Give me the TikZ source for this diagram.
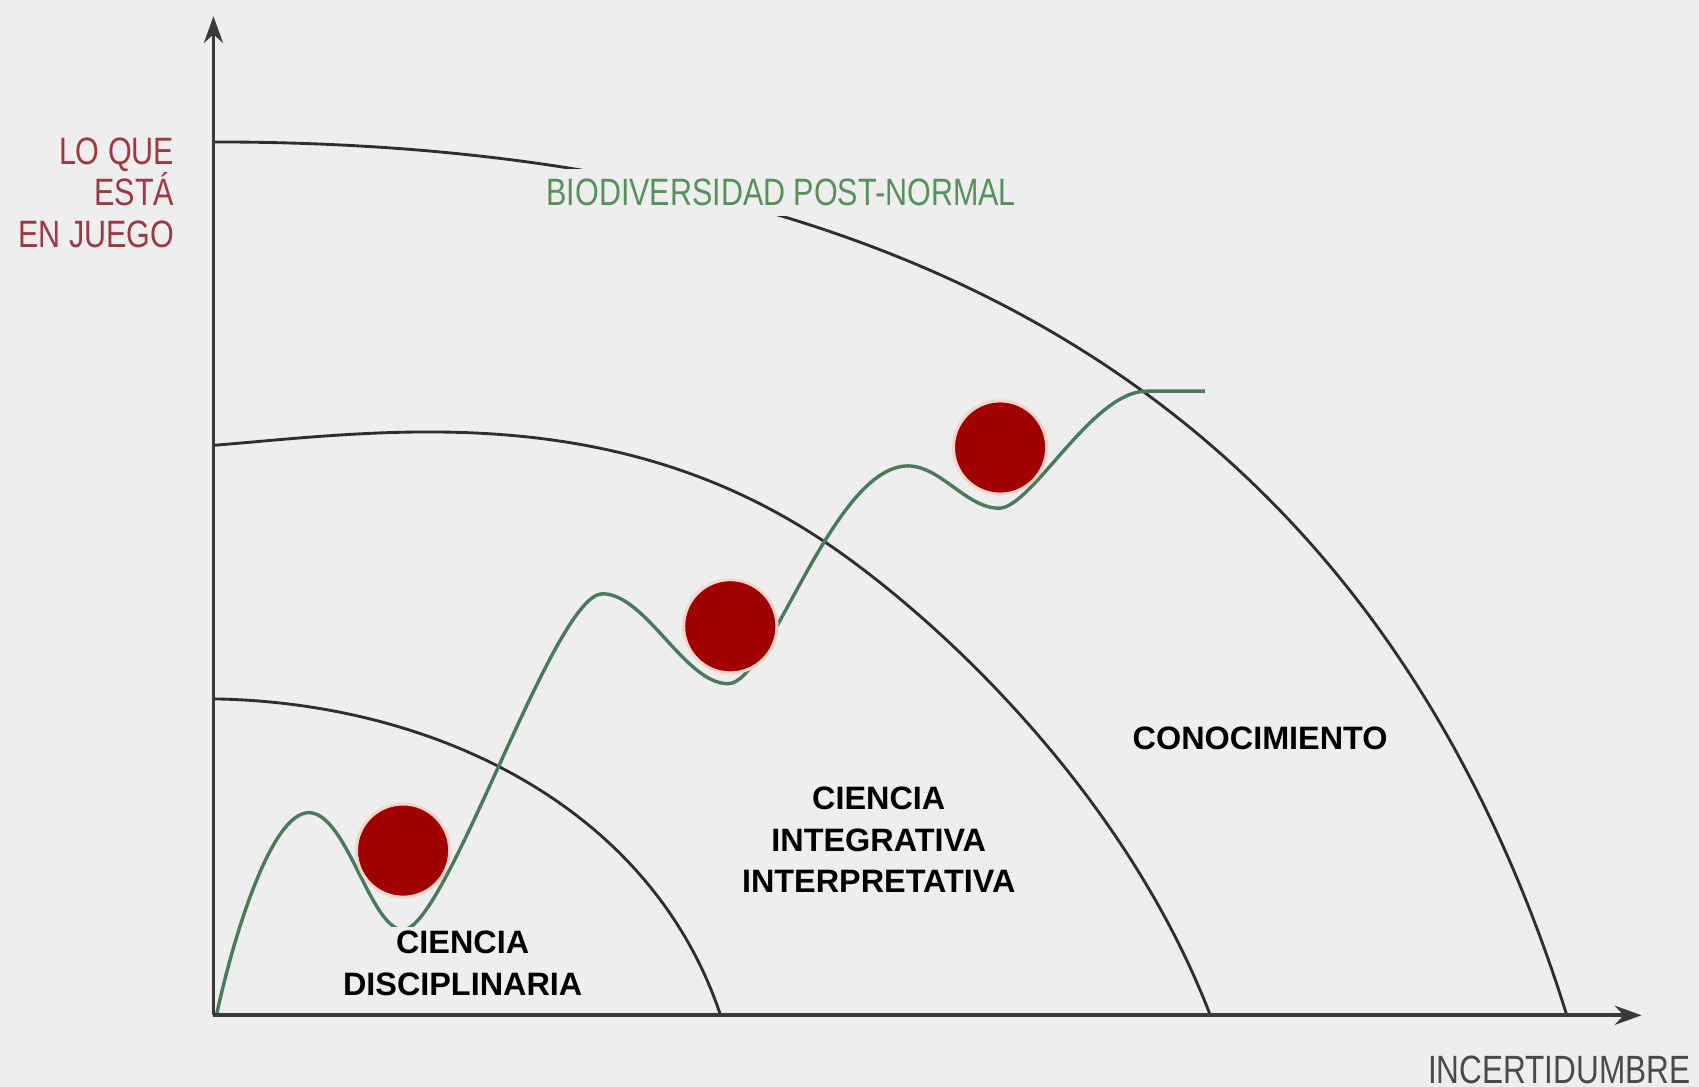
\documentclass[tikz,border=0pt]{standalone}
\usepackage{fontspec}
\setmainfont{Liberation Sans}
\newfontfamily\narrowfont[FakeStretch=0.8]{Liberation Sans}
\usetikzlibrary{arrows.meta}
\definecolor{bg}{HTML}{EEEEEE}
\definecolor{stakered}{HTML}{9E3843}
\definecolor{labgreen}{HTML}{56905C}
\definecolor{curvegreen}{HTML}{4A7A5A}
\definecolor{ball}{HTML}{A00000}
\definecolor{ballrim}{HTML}{F6D6CC}
\definecolor{arcgray}{HTML}{2E2E2E}
\definecolor{axisgray}{HTML}{3A3A3A}
\definecolor{uncgray}{HTML}{4A4A4A}
\begin{document}
\begin{tikzpicture}[x=0.01cm,y=-0.01cm,
  axisline/.style={draw=axisgray,line width=1pt,-{Stealth[length=7pt,width=5pt]}},
  arcline/.style={draw=arcgray,line width=0.75pt},
  greencurve/.style={draw=curvegreen,line width=0.9pt},
  ballstyle/.style={fill=ball,draw=ballrim,line width=0.8pt,circle,minimum size=0.86cm,inner sep=0pt},
  narrowlab/.style={font=\narrowfont\fontsize{10}{10.8}\selectfont,inner sep=1pt},
  boldlab/.style={font=\bfseries\fontsize{8.5}{11}\selectfont,align=center,fill=bg,inner sep=1pt}]
\useasboundingbox[fill=bg] (0,0) rectangle (1568,1003);
\coordinate (O) at (197,937);
\coordinate (ytop) at (197,15);
\coordinate (xend) at (1515,937);
% arcs
\draw[arcline] (197,645) .. controls (397,648) and (600,742) .. (665,937);
\draw[arcline] (197,411) .. controls (347,399) and (564,366) .. (764,502)
                        .. controls (864,570) and (1037,729) .. (1117,937);
\draw[arcline] (197,131) .. controls (827,131) and (1266,361) .. (1446,937);
% green curve
\coordinate (g0) at (200,936);
\coordinate (gA) at (285,750);
\coordinate (gB) at (372,858);
\coordinate (gC) at (556,548);
\coordinate (gD) at (672,631);
\coordinate (gE) at (838,430);
\coordinate (gF) at (922,469);
\coordinate (gG) at (1058,361);
\coordinate (gH) at (1112,361);
\draw[greencurve] (g0) .. controls (215,866) and (250,750) .. (gA)
  .. controls (320,750) and (342,858) .. (gB)
  .. controls (412,858) and (511,548) .. (gC)
  .. controls (596,548) and (632,631) .. (gD)
  .. controls (710,631) and (768,430) .. (gE)
  .. controls (868,430) and (892,469) .. (gF)
  .. controls (952,469) and (1008,361) .. (gG)
  -- (gH);
% balls
\node[ballstyle] (b1) at (372,785) {};
\node[ballstyle] (b2) at (674,578) {};
\node[ballstyle] (b3) at (923,413) {};
% axes
\draw[axisline] (O) -- (ytop);
\draw[axisline] (O) -- (xend);
% labels
\node[narrowlab,text=stakered,anchor=east,align=right] (stake) at (165,178) {LO QUE\\ESTÁ\\EN JUEGO};
\node[narrowlab,text=labgreen,fill=bg,inner xsep=1pt,inner ysep=2.6pt] (bio) at (721,178) {BIODIVERSIDAD POST-NORMAL};
\node[narrowlab,text=uncgray,font=\narrowfont\fontsize{10.35}{11}\selectfont] (unc) at (1439,987) {INCERTIDUMBRE};
\node[boldlab] (con) at (1163,681) {CONOCIMIENTO};
\node[boldlab] (cii) at (811,775) {CIENCIA\\INTEGRATIVA\\INTERPRETATIVA};
\node[boldlab] (cd) at (427,889) {CIENCIA\\DISCIPLINARIA};
\end{tikzpicture}
\end{document}
